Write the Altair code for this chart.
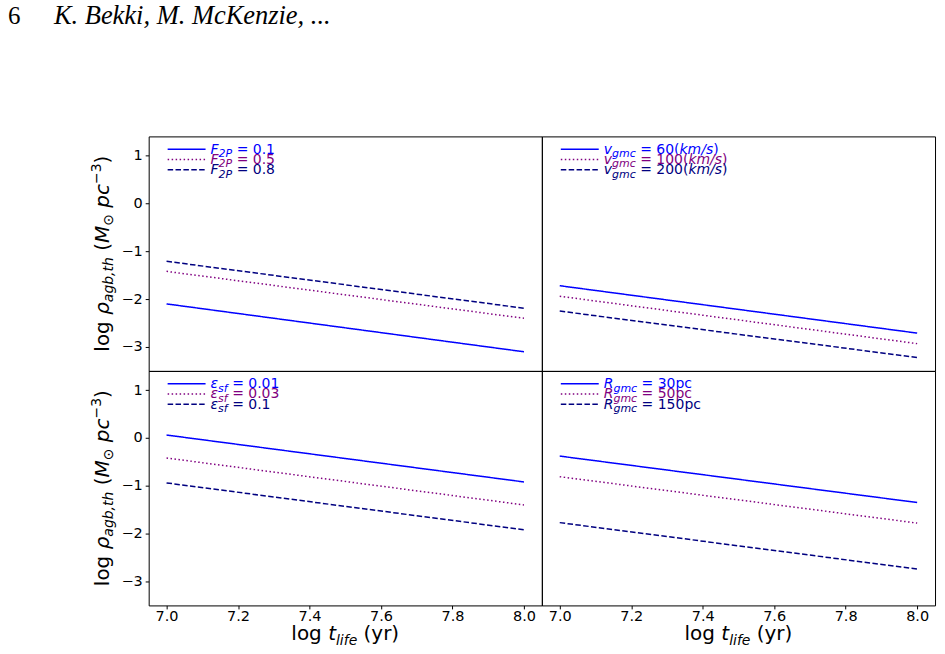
import altair as alt
import pandas as pd

# ---------------------------------------------------------------------------
# Data: log rho_agb,th evaluated at log t_life = 7.0 and 8.0 for each model
# ---------------------------------------------------------------------------
log_t = [7.0, 8.0]

f2p_vals = ["0.1", "0.5", "0.8"]
f2p_rho = [[-2.10, -3.10], [-1.42, -2.40], [-1.21, -2.19]]

vgmc_vals = ["60", "100", "200"]
vgmc_rho = [[-1.72, -2.71], [-1.94, -2.93], [-2.25, -3.22]]

esf_vals = ["0.01", "0.03", "0.1"]
esf_rho = [[0.06, -0.92], [-0.42, -1.40], [-0.94, -1.92]]

rgmc_vals = ["30", "50", "150"]
rgmc_rho = [[-0.38, -1.35], [-0.81, -1.78], [-1.77, -2.74]]

x_ticks = [7.0, 7.2, 7.4, 7.6, 7.8, 8.0]
y_ticks = [-3, -2, -1, 0, 1]

# legend labels as (text, style) runs
f2p_labels = [[("F", "it"), ("2P", "sub"), (" = " + v, "rm")] for v in f2p_vals]
vgmc_labels = [[("v", "it"), ("gmc", "sub"), (" = " + v + "(", "rm"), ("km/s", "it"), (")", "rm")]
               for v in vgmc_vals]
esf_labels = [[("ε", "it"), ("sf", "sub"), (" = " + v, "rm")] for v in esf_vals]
rgmc_labels = [[("R", "it"), ("gmc", "sub"), (" = " + v + "pc", "rm")] for v in rgmc_vals]

y_title_runs = [("log ", "rm"), ("ρ", "it"), ("agb,th", "sub"), (" (", "rm"), ("M", "it"),
                ("⊙", "subrm"), (" ", "rm"), ("pc", "it"), ("−3", "sup"), (")", "rm")]
x_title_runs = [("log ", "rm"), ("t", "it"), ("life", "sub"), (" (yr)", "rm")]

header_num = "6"
header_authors = "K. Bekki, M. McKenzie, ..."

# ---------------------------------------------------------------------------
# Styling
# ---------------------------------------------------------------------------
SERIES = ["s0", "s1", "s2"]
COLORS = ["#0000ff", "#800080", "#000080"]
DASHES = [[1, 0], [1.5, 2.5], [5.5, 2.4]]
PANEL_W, PANEL_H = 394, 235
X_DOMAIN = [6.95, 8.05]
Y_DOMAIN = [-3.5, 1.4]
FONT = "DejaVu Sans"
LEG_Y = [12.8, 23.1, 33.4]
LEG_X0, LEG_X1, LEG_TX = 19, 57, 62
LEG_FS, LEG_SUB = 14, 11

# DejaVu Sans advance widths (em) used to chain mixed-style text runs
ADV = {" ": 0.318, "(": 0.390, ")": 0.390, ",": 0.318, ".": 0.318, "/": 0.337,
       "=": 0.838, "F": 0.575, "M": 0.863, "P": 0.603, "R": 0.695, "a": 0.613,
       "b": 0.635, "c": 0.550, "e": 0.615, "f": 0.352, "g": 0.635, "h": 0.634,
       "i": 0.278, "k": 0.579, "l": 0.278, "m": 0.974, "n": 0.634, "o": 0.612,
       "p": 0.635, "r": 0.411, "s": 0.521, "t": 0.392, "v": 0.592, "y": 0.592,
       "ρ": 0.636, "ε": 0.541, "⊙": 0.838, "−": 0.838}
for d in "0123456789":
    ADV[d] = 0.636


def text_w(s, size):
    return sum(ADV.get(c, 0.6) for c in s) * size


def runs_width(runs, size, small):
    return sum(text_w(t, small if k in ("sub", "subrm", "sup") else size) for t, k in runs)


def lay_runs(runs, x0, y0, size, small, sub_dy, sup_dy, color, vertical=False):
    rows, pos = [], 0.0
    for txt, kind in runs:
        fs = small if kind in ("sub", "subrm", "sup") else size
        shift = sub_dy if kind in ("sub", "subrm") else (sup_dy if kind == "sup" else 0)
        # SVG drops leading/trailing blanks, so turn them into offsets
        lead = len(txt) - len(txt.lstrip(" "))
        pos += text_w(" " * lead, fs)
        body = txt.strip(" ")
        if body:
            if vertical:
                px, py, ang = x0 + shift, y0 - pos, 270
            else:
                px, py, ang = x0 + pos, y0 + shift, 0
            rows.append(dict(px=px, py=py, txt=body, fs=fs, col=color, ang=ang,
                             italic=kind in ("it", "sub")))
        pos += text_w(txt[lead:], fs)
    return rows


def text_layer(rows, italic):
    df = pd.DataFrame([r for r in rows if r["italic"] == italic])
    return alt.Chart(df).mark_text(
        align="left", baseline="alphabetic", font=FONT,
        fontStyle="italic" if italic else "normal",
    ).encode(
        x=alt.X("px:Q", scale=None, axis=None),
        y=alt.Y("py:Q", scale=None, axis=None),
        text="txt:N",
        size=alt.Size("fs:Q", scale=None, legend=None),
        fill=alt.Fill("col:N", scale=None, legend=None),
        angle=alt.Angle("ang:Q", scale=None),
    )


def spacer(x, y):
    return alt.Chart(pd.DataFrame({"k": [0]})).mark_rect(opacity=0).encode(
        x=alt.value(x), x2=alt.value(x + 1), y=alt.value(y), y2=alt.value(y + 1))


cscale = alt.Scale(domain=SERIES, range=COLORS)
dscale = alt.Scale(domain=SERIES, range=DASHES)


def panel(vals, rho, labels, show_x, show_y, extras=()):
    df = pd.DataFrame([dict(series=SERIES[i], value=v, t=log_t[j], rho=rho[i][j])
                       for i, v in enumerate(vals) for j in range(len(log_t))])
    axis_common = dict(title=None, grid=False, domain=False, tickSize=3.5,
                       tickColor="black", tickWidth=1, labelColor="black",
                       labelFont=FONT, labelFontSize=14.5)
    x_axis = alt.Axis(values=x_ticks, format=".1f", labelPadding=1,
                      **axis_common) if show_x else None
    y_axis = alt.Axis(values=y_ticks, format="d", labelPadding=3,
                      **axis_common) if show_y else None

    lines = alt.Chart(df).mark_line(strokeWidth=1.5).encode(
        x=alt.X("t:Q", scale=alt.Scale(domain=X_DOMAIN, nice=False, zero=False), axis=x_axis),
        y=alt.Y("rho:Q", scale=alt.Scale(domain=Y_DOMAIN, nice=False, zero=False), axis=y_axis),
        color=alt.Color("series:N", scale=cscale, legend=None),
        strokeDash=alt.StrokeDash("series:N", scale=dscale, legend=None),
    )

    leg = pd.DataFrame(dict(series=SERIES, ly=LEG_Y))
    samples = alt.Chart(leg).mark_rule(strokeWidth=1.5).encode(
        x=alt.value(LEG_X0), x2=alt.value(LEG_X1),
        y=alt.Y("ly:Q", scale=None, axis=None),
        color=alt.Color("series:N", scale=cscale, legend=None),
        strokeDash=alt.StrokeDash("series:N", scale=dscale, legend=None),
    )

    rows = []
    for i, runs in enumerate(labels):
        rows += lay_runs(runs, LEG_TX, LEG_Y[i] + 4.5, LEG_FS, LEG_SUB, 3.5, -5, COLORS[i])
    if show_y:
        tot = runs_width(y_title_runs, 20, 14)
        rows += lay_runs(y_title_runs, -40, PANEL_H / 2 + tot / 2, 20, 14, 4.5, -8,
                         "black", vertical=True)
    if show_x:
        tot = runs_width(x_title_runs, 20, 14)
        rows += lay_runs(x_title_runs, PANEL_W / 2 - tot / 2, 270, 20, 14, 4.5, -8, "black")

    layers = [lines, samples, text_layer(rows, False), text_layer(rows, True)] + list(extras)
    return alt.layer(*layers).properties(width=PANEL_W, height=PANEL_H)


header = [
    alt.Chart(pd.DataFrame({"txt": [header_num]})).mark_text(
        align="left", baseline="alphabetic", font="Liberation Serif", fontSize=25,
        color="black").encode(x=alt.value(-141), y=alt.value(-112.5), text="txt:N"),
    alt.Chart(pd.DataFrame({"txt": [header_authors]})).mark_text(
        align="left", baseline="alphabetic", font="Liberation Serif", fontSize=26.5,
        fontStyle="italic", color="black").encode(x=alt.value(-95), y=alt.value(-112.5),
                                                  text="txt:N"),
    spacer(-148, -135),
]

tl = panel(f2p_vals, f2p_rho, f2p_labels, False, True, extras=header)
tr = panel(vgmc_vals, vgmc_rho, vgmc_labels, False, False)
bl = panel(esf_vals, esf_rho, esf_labels, True, True)
br = panel(rgmc_vals, rgmc_rho, rgmc_labels, True, False, extras=[spacer(402, 283)])

chart = alt.concat(tl, tr, bl, br, columns=2, spacing=0).properties(
    bounds="flush", padding=0, background="white",
).configure_view(stroke="black", strokeWidth=1)

chart.save("out.html", embed_options={"renderer": "svg", "actions": False})
